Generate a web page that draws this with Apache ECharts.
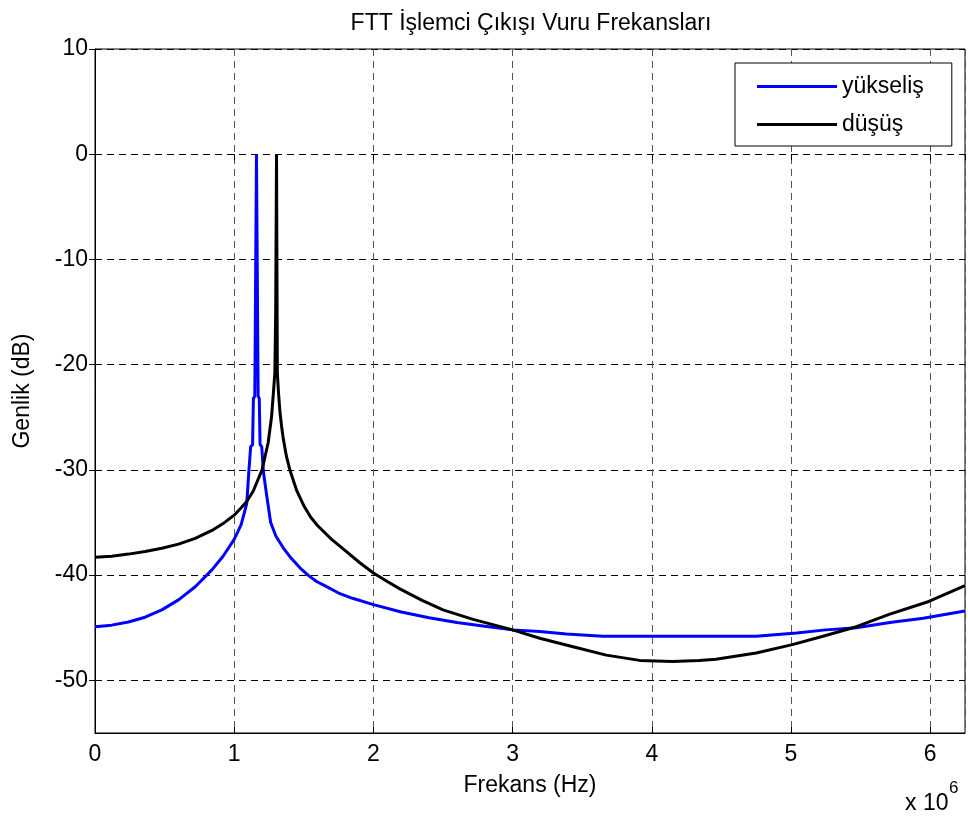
<!DOCTYPE html>
<html>
<head>
<meta charset="utf-8">
<script src="https://cdn.jsdelivr.net/npm/echarts@6/dist/echarts.min.js"></script>
<style>
  html, body { margin: 0; padding: 0; background: #fff; }
  #chart { width: 968px; height: 819px; }
</style>
</head>
<body>
<div id="chart"></div>
<script>
// Frequency axis values are in units of 10^6 Hz
const riseFreq = [0, 0.12, 0.24, 0.36, 0.48, 0.6, 0.72, 0.84, 0.92, 1.0, 1.05, 1.09, 1.105, 1.118, 1.132, 1.138, 1.148, 1.16, 1.172, 1.18, 1.186, 1.198, 1.21, 1.232, 1.262, 1.30, 1.352, 1.41, 1.472, 1.53, 1.592, 1.65, 1.75, 1.85, 2.0, 2.2, 2.4, 2.6, 2.8, 3.0, 3.195, 3.386, 3.649, 4.0, 4.4, 4.75, 5.04, 5.25, 5.47, 5.71, 5.95, 6.25];
const riseDb = [-44.9, -44.75, -44.45, -44.0, -43.3, -42.35, -41.1, -39.5, -38.2, -36.6, -35.2, -33.2, -30.2, -27.8, -27.6, -23.2, -23.0, 0, -23.0, -23.2, -27.6, -27.8, -30.2, -32.3, -35.0, -36.3, -37.4, -38.4, -39.3, -40.0, -40.6, -41.0, -41.7, -42.2, -42.8, -43.5, -44.05, -44.5, -44.85, -45.2, -45.35, -45.6, -45.8, -45.8, -45.8, -45.8, -45.5, -45.2, -45.0, -44.5, -44.1, -43.4];

const fallFreq = [0, 0.12, 0.24, 0.36, 0.48, 0.6, 0.72, 0.84, 0.92, 1.0, 1.05, 1.09, 1.137, 1.2, 1.244, 1.268, 1.282, 1.292, 1.298, 1.304, 1.31, 1.318, 1.328, 1.34, 1.352, 1.375, 1.40, 1.45, 1.5, 1.55, 1.6, 1.7, 1.8, 1.9, 2.0, 2.1, 2.19, 2.35, 2.5, 2.716, 3.0, 3.195, 3.434, 3.673, 3.912, 4.15, 4.34, 4.46, 4.75, 5.01, 5.23, 5.47, 5.71, 5.99, 6.25];
const fallDb = [-38.3, -38.2, -38.0, -37.75, -37.45, -37.05, -36.5, -35.75, -35.1, -34.3, -33.6, -33.0, -32.0, -30.0, -27.4, -25.0, -22.6, -20.8, -15.0, 0, -20.8, -22.6, -24.4, -25.8, -27.0, -28.7, -30.0, -32.0, -33.4, -34.5, -35.3, -36.6, -37.7, -38.8, -39.8, -40.6, -41.3, -42.4, -43.3, -44.2, -45.2, -46.0, -46.8, -47.6, -48.1, -48.2, -48.1, -48.0, -47.4, -46.6, -45.8, -44.9, -43.7, -42.5, -41.0];

const seriesNames = ['yükseliş', 'düşüş'];
const yTickValues = [-50, -40, -30, -20, -10, 0, 10];

const FONT = 'Liberation Sans, Arial, Helvetica, sans-serif';
const FS = 23;
const pairs = (xs, ys) => xs.map((x, i) => [x, ys[i]]);

// plain line sample for the legend (no marker)
const lineIcon = 'path://M0,0 M0,10 L80,10 L80,13 L0,13 Z M80,23';

const chart = echarts.init(document.getElementById('chart'), null, { renderer: 'canvas' });

const gridDash = [7, 5];
const tickStyle = { show: true, inside: true, length: 6, lineStyle: { color: '#000', width: 1 } };

chart.setOption({
  animation: false,
  backgroundColor: '#fff',
  title: {
    text: 'FTT İşlemci Çıkışı Vuru Frekansları',
    left: 526, textAlign: 'center', top: 7,
    textStyle: { fontFamily: FONT, fontSize: FS, fontWeight: 'normal', color: '#000' }
  },
  legend: {
    data: seriesNames.map(n => ({ name: n, icon: lineIcon })),
    orient: 'vertical',
    left: 735, top: 63,
    padding: [12, 28, 10, 22],
    itemGap: 15,
    itemWidth: 80, itemHeight: 23,
    backgroundColor: '#fff',
    borderColor: '#000', borderWidth: 1,
    textStyle: { fontFamily: FONT, fontSize: FS, color: '#000' }
  },
  grid: {
    left: 95, right: 3, top: 49, bottom: 86,
    show: true, borderColor: '#000', borderWidth: 1, backgroundColor: '#fff'
  },
  xAxis: [{
    type: 'value', min: 0, max: 6.25, interval: 1,
    name: 'Frekans (Hz)', nameLocation: 'middle', nameGap: 41,
    nameTextStyle: { fontFamily: FONT, fontSize: FS, color: '#000' },
    axisLine: { show: true, onZero: false, lineStyle: { color: '#000', width: 1 } },
    axisTick: tickStyle,
    axisLabel: { fontFamily: FONT, fontSize: FS, color: '#000', margin: 10, showMaxLabel: false },
    splitLine: { show: true, lineStyle: { color: '#555', width: 1, type: gridDash } }
  }, {
    type: 'value', min: 0, max: 6.25, interval: 1, position: 'top',
    axisLine: { show: false },
    axisTick: tickStyle,
    axisLabel: { show: false },
    splitLine: { show: false }
  }],
  yAxis: [{
    type: 'value', min: -55, max: 10,
    name: 'Genlik (dB)', nameLocation: 'middle', nameGap: 61,
    nameTextStyle: { fontFamily: FONT, fontSize: FS, color: '#000' },
    axisLine: { show: true, onZero: false, lineStyle: { color: '#000', width: 1 } },
    axisTick: Object.assign({ customValues: yTickValues }, tickStyle),
    axisLabel: { fontFamily: FONT, fontSize: FS, color: '#000', margin: 7, customValues: yTickValues },
    splitLine: { show: true, lineStyle: { color: '#000', width: 1, type: gridDash } }
  }, {
    type: 'value', min: -55, max: 10, position: 'right',
    axisLine: { show: false },
    axisTick: Object.assign({ customValues: yTickValues }, tickStyle),
    axisLabel: { show: false, customValues: yTickValues },
    splitLine: { show: false }
  }],
  graphic: [
    { type: 'text', left: 905, top: 792, style: { text: 'x 10', fontFamily: FONT, fontSize: FS, fill: '#000' } },
    { type: 'text', left: 949, top: 780, style: { text: '6', fontFamily: FONT, fontSize: 17, fill: '#000' } }
  ],
  series: [{
    name: seriesNames[0], type: 'line', xAxisIndex: 0, yAxisIndex: 0,
    data: pairs(riseFreq, riseDb),
    symbol: 'none', showSymbol: false,
    lineStyle: { color: '#0000ff', width: 3 }, itemStyle: { color: '#0000ff' }
  }, {
    name: seriesNames[1], type: 'line', xAxisIndex: 0, yAxisIndex: 0,
    data: pairs(fallFreq, fallDb),
    symbol: 'none', showSymbol: false,
    lineStyle: { color: '#000', width: 3 }, itemStyle: { color: '#000' }
  }]
});
</script>
</body>
</html>
